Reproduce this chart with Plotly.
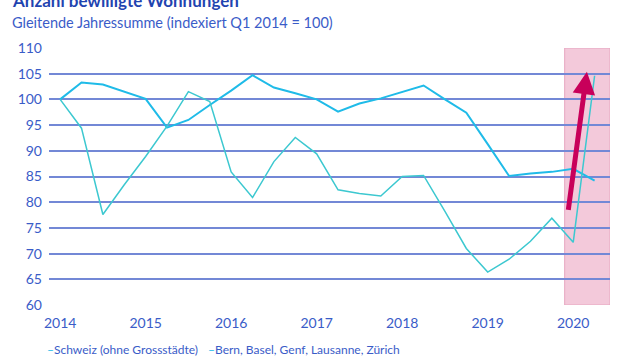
import plotly.graph_objects as go

quarters = [2014 + i * 0.25 for i in range(26)]
schweiz = [100, 103.3, 102.9, 101.5, 100.1, 94.5, 96.0, 98.9, 101.7, 104.7, 102.3, 101.2,
           100.0, 97.6, 99.2, 100.2, 101.5, 102.7, 100.0, 97.4, 91.3, 85.1, 85.6, 85.9, 86.5, 84.2]
staedte = [100, 94.4, 77.6, 83.4, 88.9, 94.8, 101.5, 99.6, 85.9, 80.9, 87.9, 92.6,
           89.4, 82.4, 81.7, 81.2, 85.0, 85.2, 78.2, 71.0, 66.4, 68.9, 72.4, 76.9, 72.2, 104.6]
year_ticks = [2014, 2015, 2016, 2017, 2018, 2019, 2020]
y_ticks = list(range(60, 111, 5))
series_names = ["Schweiz (ohne Grossstädte)", "Bern, Basel, Genf, Lausanne, Zürich"]
c_schweiz = "#1fbbe8"
c_staedte = "#3cc8d0"
blue = "#3a5cc8"
font = "Lato"

fig = go.Figure()
fig.add_trace(go.Scatter(x=quarters, y=schweiz, mode="lines", name=series_names[0],
                         line=dict(color=c_schweiz, width=2)))
fig.add_trace(go.Scatter(x=quarters, y=staedte, mode="lines", name=series_names[1],
                         line=dict(color=c_staedte, width=1.5)))

fig.add_shape(type="rect", xref="x", yref="y", x0=2019.9, x1=2020.43, y0=60, y1=110,
              fillcolor="#f3c9da", line=dict(color="#e6a6c0", width=1), layer="below")

fig.add_annotation(x=2020.16, y=105.4, ax=2019.94, ay=78.2, xref="x", yref="y",
                   axref="x", ayref="y", text="", showarrow=True, arrowhead=2,
                   arrowsize=0.9, arrowwidth=5, arrowcolor="#c8005a")

fig.add_annotation(xref="paper", yref="paper", x=-0.07, y=1.0, yshift=48, xanchor="left",
                   yanchor="middle", showarrow=False,
                   text="<b>Anzahl bewilligte Wohnungen</b>",
                   font=dict(family=font, size=17, color="#1f44b0"))
fig.add_annotation(xref="paper", yref="paper", x=-0.07, y=1.0, yshift=26, xanchor="left",
                   yanchor="middle", showarrow=False,
                   text="Gleitende Jahressumme (indexiert Q1 2014 = 100)",
                   font=dict(family=font, size=14.5, color=blue))
for xp, name, col in [(-0.008, series_names[0], c_schweiz), (0.28, series_names[1], c_schweiz)]:
    fig.add_annotation(xref="paper", yref="paper", x=xp, y=0, yshift=-44, xanchor="left",
                       yanchor="middle", showarrow=False,
                       text=f"<span style='color:{col}'>–</span>{name}",
                       font=dict(family=font, size=12, color=blue))

fig.update_layout(
    width=640, height=360,
    margin=dict(l=49, r=30, t=48, b=55),
    plot_bgcolor="white", paper_bgcolor="white",
    showlegend=False,
    font=dict(family=font, size=14, color=blue),
    xaxis=dict(range=[2013.87, 2020.43], tickvals=year_ticks, ticktext=[str(y) for y in year_ticks],
               showgrid=False, zeroline=False, showline=False, ticks="",
               tickfont=dict(size=14, color=blue), ticklabelstandoff=8),
    yaxis=dict(range=[60, 110], tickvals=y_ticks, showgrid=True, gridcolor="#7388d6",
               gridwidth=1.5, zeroline=False, showline=False, ticks="",
               tickfont=dict(size=14, color=blue), ticklabelstandoff=6),
)

fig.write_html("out.html", config={"displayModeBar": False},
               post_script="document.body.style.margin='0';document.body.style.overflow='hidden';")
